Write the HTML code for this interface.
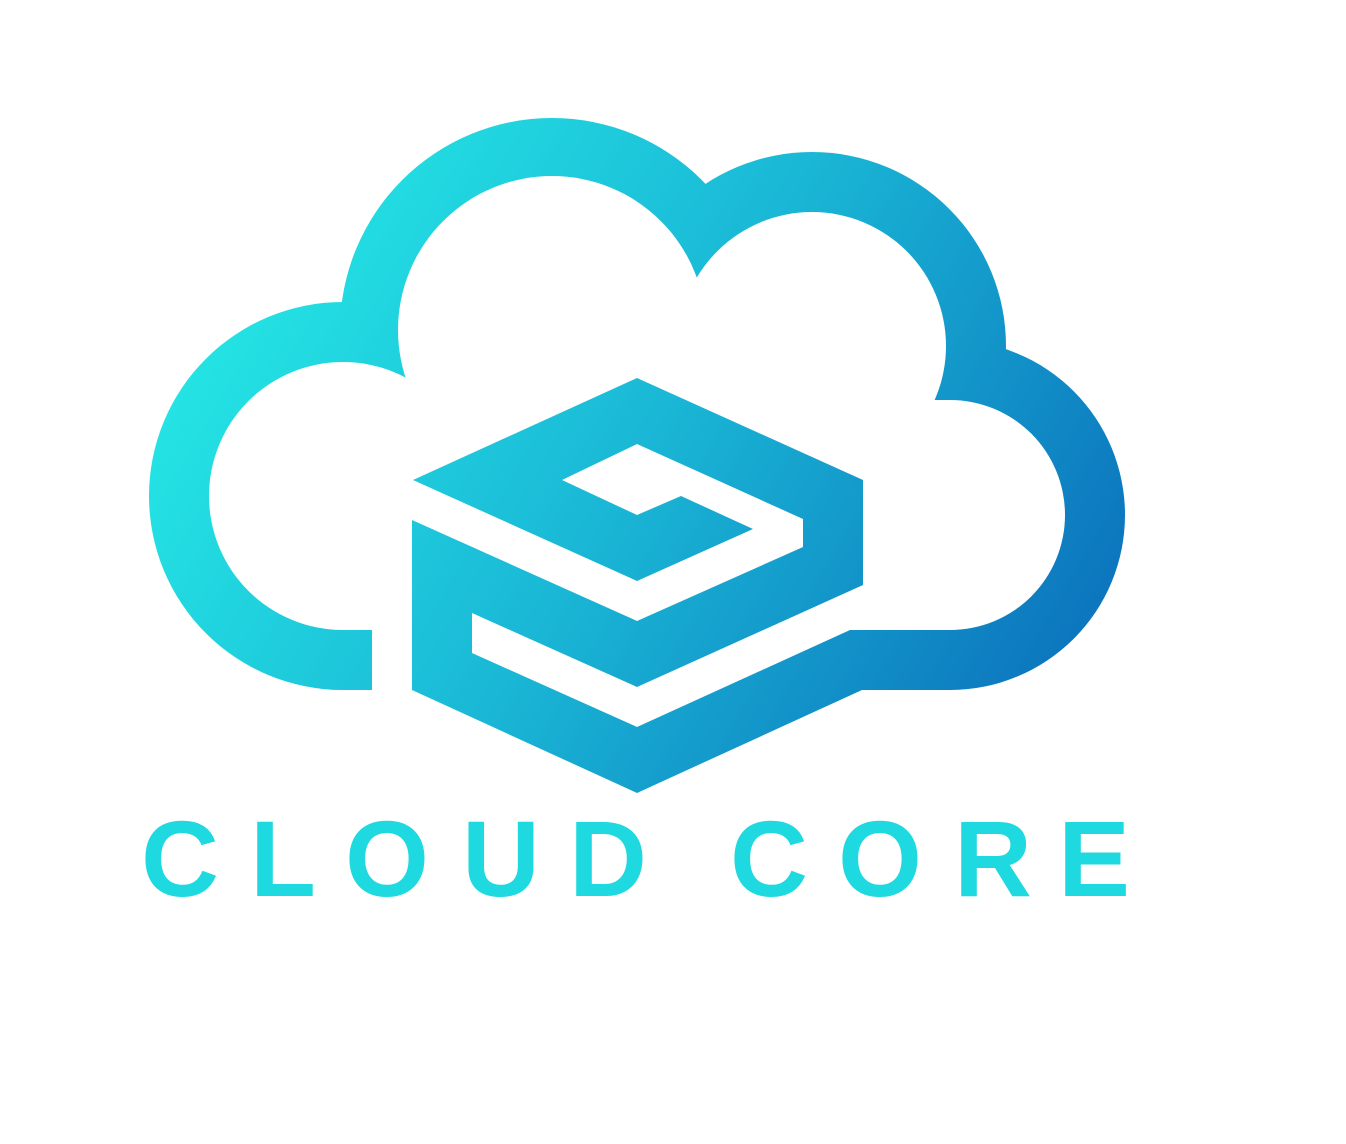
<!DOCTYPE html>
<html><head><meta charset="utf-8"><style>
html,body{margin:0;padding:0;background:#fff;}
svg{display:block;}
</style></head><body>
<svg width="1346" height="1144" viewBox="0 0 1346 1144" xmlns="http://www.w3.org/2000/svg">
<defs>
<linearGradient id="g" gradientUnits="userSpaceOnUse" x1="260" y1="240" x2="1080" y2="720">
<stop offset="0" stop-color="#24e4e4"/>
<stop offset="0.45" stop-color="#1ab8d6"/>
<stop offset="1" stop-color="#0b70bc"/>
</linearGradient>
<mask id="m" maskUnits="userSpaceOnUse" x="0" y="0" width="1346" height="1144">
<rect width="1346" height="1144" fill="black"/>
<circle cx="343" cy="496" r="194" fill="white"/>
<circle cx="552" cy="330" r="212" fill="white"/>
<circle cx="812" cy="346" r="194" fill="white"/>
<circle cx="950" cy="515" r="175" fill="white"/>
<rect x="343" y="400" width="607" height="290" fill="white"/>
<circle cx="343" cy="496" r="134" fill="black"/>
<circle cx="552" cy="330" r="154" fill="black"/>
<circle cx="812" cy="346" r="134" fill="black"/>
<circle cx="950" cy="515" r="115" fill="black"/>
<rect x="343" y="400" width="607" height="230" fill="black"/>
<rect x="372" y="590" width="480" height="120" fill="black"/>
</mask>
</defs>
<rect width="1346" height="1144" fill="url(#g)" mask="url(#m)"/>
<polygon fill="url(#g)" points="413,480 637,378 863,480 863,585 637,687 472,613 472,653 637,727 850,630 900,630 900,690 862,690 637,793 412,690 412,520 637,621 803,547 803,519 637,444 562,480 637,515 681,496 753,529 637,581"/>
<g font-family="'Liberation Sans', sans-serif" font-weight="bold" font-size="108" fill="#1fd9e0">
<text x="141" y="896">C</text>
<text x="250" y="896">L</text>
<text x="345" y="896">O</text>
<text x="462" y="896">U</text>
<text x="569" y="896">D</text>
<text x="730" y="896">C</text>
<text x="838" y="896">O</text>
<text x="954" y="896">R</text>
<text x="1058" y="896">E</text>
</g>
</svg>
</body></html>
